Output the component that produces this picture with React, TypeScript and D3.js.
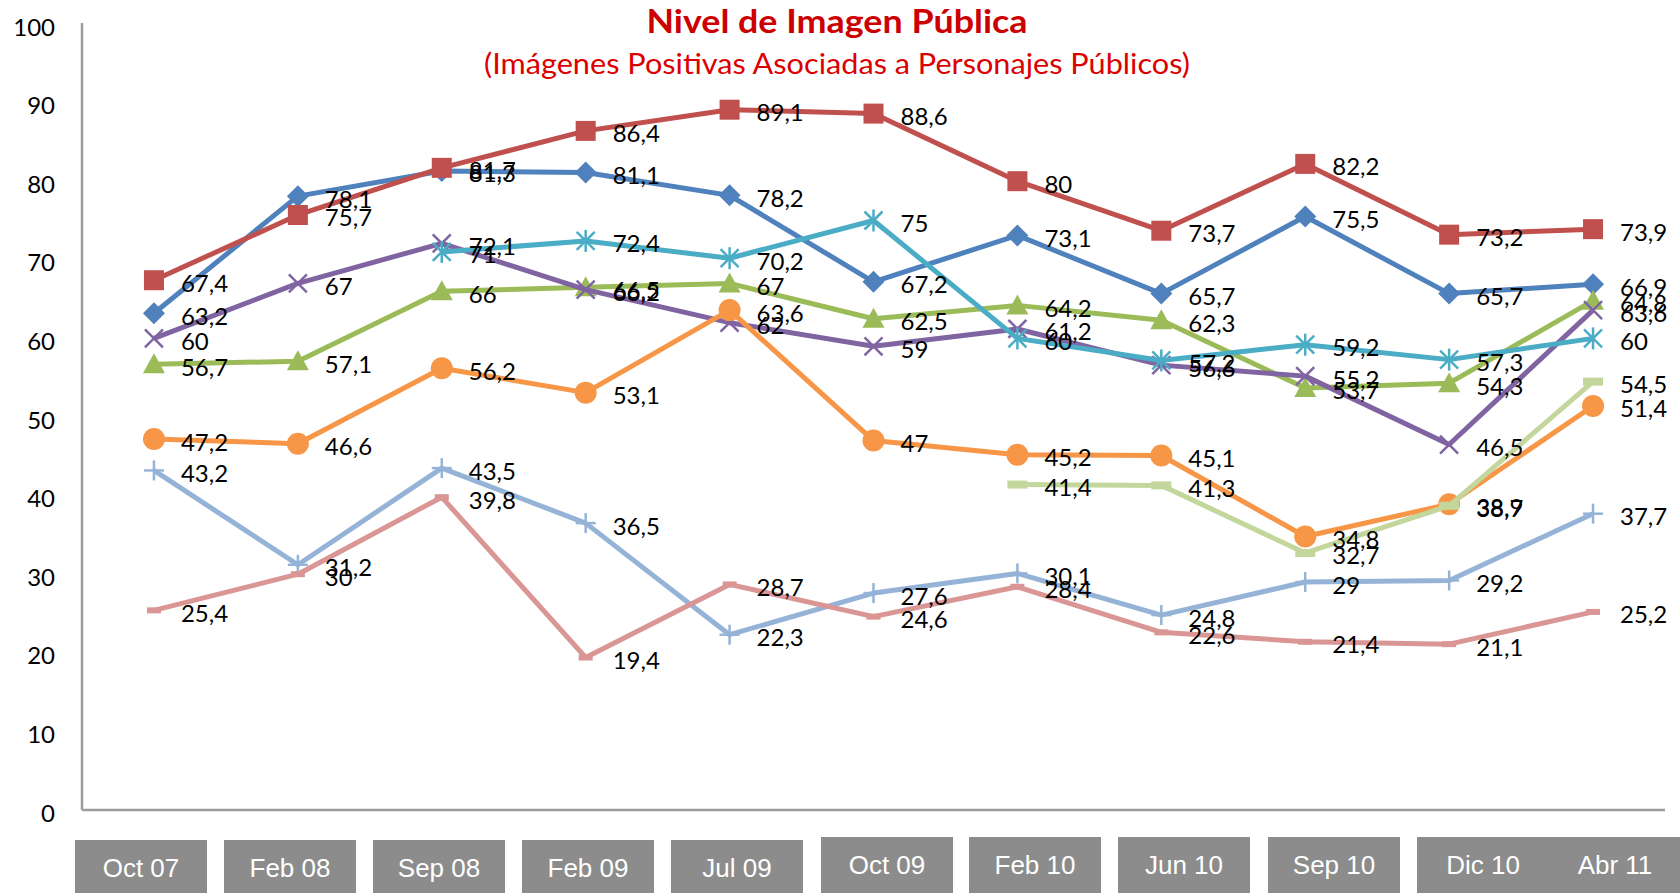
import React from "react";
import * as d3 from "d3";

const categories = ["Oct 07", "Feb 08", "Sep 08", "Feb 09", "Jul 09", "Oct 09", "Feb 10", "Jun 10", "Sep 10", "Dic 10", "Abr 11"];
const yTicks = [0, 10, 20, 30, 40, 50, 60, 70, 80, 90, 100];

const blueDiamond = [63.2, 78.1, 81.3, 81.1, 78.2, 67.2, 73.1, 65.7, 75.5, 65.7, 66.9];
const redSquare = [67.4, 75.7, 81.7, 86.4, 89.1, 88.6, 80, 73.7, 82.2, 73.2, 73.9];
const greenTriangle = [56.7, 57.1, 66, 66.5, 67, 62.5, 64.2, 62.3, 53.7, 54.3, 64.8];
const purpleX = [60, 67, 72.1, 66.2, 62, 59, 61.2, 56.6, 55.2, 46.5, 63.6];
const cyanStar = [null, null, 71, 72.4, 70.2, 75, 60, 57.2, 59.2, 57.3, 60];
const orangeCircle = [47.2, 46.6, 56.2, 53.1, 63.6, 47, 45.2, 45.1, 34.8, 38.9, 51.4];
const lightBluePlus = [43.2, 31.2, 43.5, 36.5, 22.3, 27.6, 30.1, 24.8, 29, 29.2, 37.7];
const pinkDash = [25.4, 30, 39.8, 19.4, 28.7, 24.6, 28.4, 22.6, 21.4, 21.1, 25.2];
const lightGreenDash = [null, null, null, null, null, null, 41.4, 41.3, 32.7, 38.7, 54.5];

type Val = number | null;
const seriesList: { values: Val[]; color: string; marker: string }[] = [
  { values: blueDiamond, color: "#4F81BD", marker: "diamond" },
  { values: redSquare, color: "#C0504D", marker: "square" },
  { values: greenTriangle, color: "#9BBB59", marker: "triangle" },
  { values: purpleX, color: "#8064A2", marker: "x" },
  { values: cyanStar, color: "#4BACC6", marker: "star" },
  { values: orangeCircle, color: "#F79646", marker: "circle" },
  { values: lightBluePlus, color: "#95B3D7", marker: "plus" },
  { values: pinkDash, color: "#D99694", marker: "dashS" },
  { values: lightGreenDash, color: "#C3D69B", marker: "dashL" },
];

const W = 1680;
const H = 893;
const plotLeft = 82;
const plotRight = 1665;
const plotTop = 24;
const plotBottom = 810;

const x = d3.scaleBand<string>().domain(categories).range([plotLeft, plotRight]);
const cx = (c: string) => (x(c) as number) + x.bandwidth() / 2;
const y = d3.scaleLinear().domain([0, 100]).range([plotBottom, plotTop]);

const fmt = (v: number) => String(v).replace(".", ",");

function Marker({ type, px, py, color }: { type: string; px: number; py: number; color: string }) {
  switch (type) {
    case "diamond":
      return <path d={`M${px},${py - 11}L${px + 11},${py}L${px},${py + 11}L${px - 11},${py}Z`} fill={color} />;
    case "square":
      return <rect x={px - 10} y={py - 10} width={20} height={20} fill={color} />;
    case "triangle":
      return <path d={`M${px},${py - 11}L${px + 11},${py + 9}L${px - 11},${py + 9}Z`} fill={color} />;
    case "circle":
      return <circle cx={px} cy={py} r={11} fill={color} />;
    case "x":
      return (
        <g stroke={color} strokeWidth={2.5}>
          <line x1={px - 9} y1={py - 9} x2={px + 9} y2={py + 9} />
          <line x1={px - 9} y1={py + 9} x2={px + 9} y2={py - 9} />
        </g>
      );
    case "star":
      return (
        <g stroke={color} strokeWidth={2.5}>
          <line x1={px - 9} y1={py - 9} x2={px + 9} y2={py + 9} />
          <line x1={px - 9} y1={py + 9} x2={px + 9} y2={py - 9} />
          <line x1={px} y1={py - 11} x2={px} y2={py + 11} />
        </g>
      );
    case "plus":
      return (
        <g stroke={color} strokeWidth={2.5}>
          <line x1={px} y1={py - 10} x2={px} y2={py + 10} />
          <line x1={px - 10} y1={py} x2={px + 10} y2={py} />
        </g>
      );
    case "dashS":
      return <rect x={px - 7} y={py - 3} width={14} height={6} fill={color} />;
    case "dashL":
      return <rect x={px - 10} y={py - 4} width={20} height={8} fill={color} />;
    default:
      return null;
  }
}

const boxLefts = [75, 224, 373, 522, 671, 821, 969, 1118, 1268, 1417];

export default function App() {
  const line = d3
    .line<Val>()
    .defined((d) => d !== null)
    .x((_, i) => cx(categories[i]))
    .y((d) => y(d as number));

  const font = "Lato, 'Open Sans', sans-serif";

  return (
    <svg
      width={W}
      height={H}
      style={{ position: "fixed", left: 0, top: 0, background: "#fff" }}
      fontFamily={font}
    >
      <rect x={0} y={0} width={W} height={H} fill="#fff" />
      {/* title */}
      <text x={837} y={33} textAnchor="middle" fill="#CC0000" fontWeight="bold" fontSize={32} textLength={381} lengthAdjust="spacingAndGlyphs">
        Nivel de Imagen Pública
      </text>
      <text x={837} y={74} textAnchor="middle" fill="#DD0000" fontSize={28} textLength={706} lengthAdjust="spacingAndGlyphs">
        (Imágenes Positivas Asociadas a Personajes Públicos)
      </text>

      {/* axes */}
      <line x1={plotLeft} y1={plotTop - 1} x2={plotLeft} y2={plotBottom} stroke="#9c9c9c" strokeWidth={2.5} />
      <line x1={plotLeft} y1={plotBottom} x2={plotRight} y2={plotBottom} stroke="#9c9c9c" strokeWidth={2.5} />
      {yTicks.map((t) => (
        <text key={t} x={55} y={y(t) + 2} textAnchor="end" dominantBaseline="central" fontSize={24} fill="#000">
          {t}
        </text>
      ))}

      {/* series */}
      {seriesList.map((s, si) => (
        <g key={si}>
          <path d={line(s.values) || ""} fill="none" stroke={s.color} strokeWidth={5} strokeLinejoin="round" />
          {s.values.map((v, i) =>
            v === null ? null : <Marker key={i} type={s.marker} px={cx(categories[i])} py={y(v)} color={s.color} />
          )}
        </g>
      ))}

      {/* data labels */}
      {seriesList.map((s, si) => (
        <g key={"l" + si}>
          {s.values.map((v, i) =>
            v === null ? null : (
              <text key={i} x={cx(categories[i]) + 27} y={y(v) + 2} dominantBaseline="central" fontSize={24} fill="#000">
                {fmt(v)}
              </text>
            )
          )}
        </g>
      ))}

      {/* category boxes */}
      {boxLefts.map((bx, i) => {
        const top = i < 5 ? 840 : 837;
        const wdt = i === boxLefts.length - 1 ? W - bx : 132;
        return <rect key={"b" + i} x={bx} y={top} width={wdt} height={H - top} fill="#8C8C8C" />;
      })}
      {categories.map((c, i) => {
        const top = i < 5 ? 840 : 837;
        const tx = i < boxLefts.length ? boxLefts[i] + 66 : 1615;
        return (
          <text key={"c" + i} x={tx} y={top + 37} textAnchor="middle" fill="#fff" fontSize={26} fontFamily="'Liberation Sans', Arial, sans-serif">
            {c}
          </text>
        );
      })}
    </svg>
  );
}
